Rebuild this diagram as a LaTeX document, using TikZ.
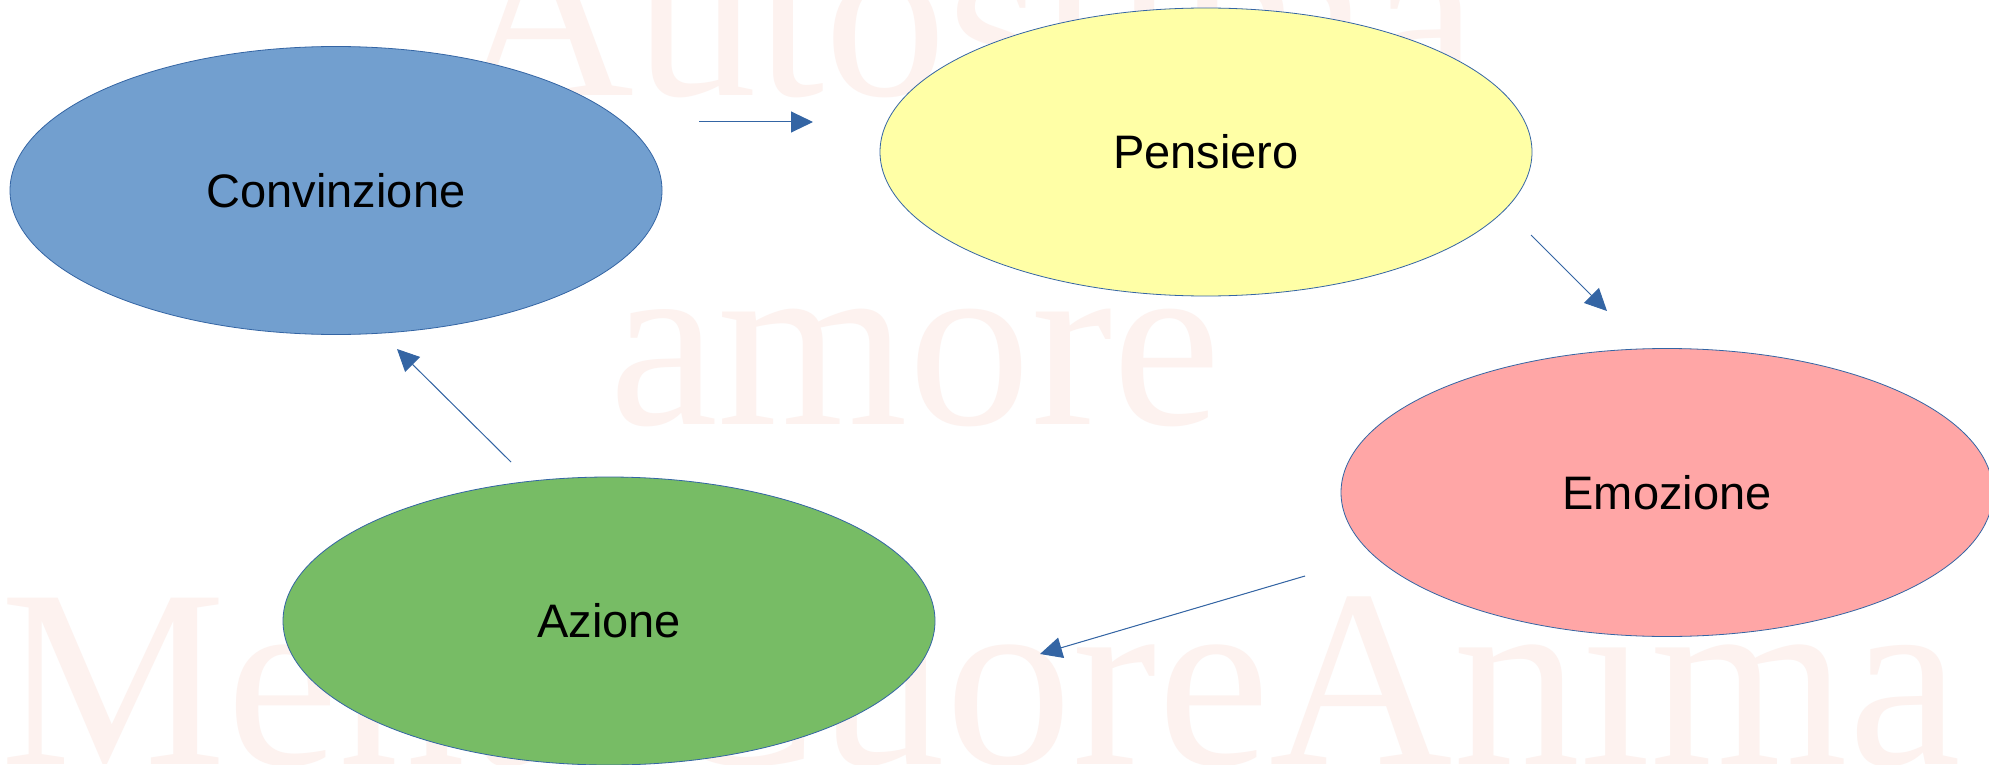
\documentclass[tikz,border=0pt]{standalone}
\usepackage{fontspec}
\setmainfont{Liberation Sans}
\newfontfamily\wmfont{Liberation Serif}
\usetikzlibrary{shapes.geometric,arrows.meta}
\definecolor{lineblue}{HTML}{3465A4}
\definecolor{cblue}{HTML}{729FCF}
\definecolor{cyellow}{HTML}{FFFFA6}
\definecolor{cpink}{HTML}{FFA6A6}
\definecolor{cgreen}{HTML}{77BC65}
\definecolor{wmcol}{RGB}{253,242,239}
\tikzset{
  bubble/.style={ellipse, draw=lineblue, line width=0.8pt, minimum width=652pt, minimum height=288pt, inner sep=0pt, font=\fontsize{47pt}{47pt}\selectfont, text=black},
  flow/.style={draw=lineblue, line width=1pt, -{Triangle[length=22pt,width=21pt]}, fill=lineblue},
  watermark/.style={text=wmcol, inner sep=0pt, anchor=base west, font=\wmfont\fontsize{245pt}{245pt}\selectfont}
}
\begin{document}
\begin{tikzpicture}[x=1pt,y=-1pt]
\useasboundingbox (0,0) rectangle (1989,765);
\clip (0,0) rectangle (1989,765);
\fill[white] (0,0) rectangle (1989,765);
% watermark
\node[watermark] (wm1) at (457,96) {Autostima};
\node[watermark] (wm2) at (609,424) {amore};
\node[watermark, font=\wmfont\fontsize{254pt}{254pt}\selectfont] (wm3) at (0,764) {MenteCuoreAnima};
% nodes
\node[bubble, fill=cblue] (conv) at (336,190.5) {Convinzione};
\node[bubble, fill=cyellow] (pens) at (1206,152) {Pensiero};
\node[bubble, fill=cpink] (emoz) at (1667,492.5) {Emozione};
\node[bubble, fill=cgreen] (azio) at (609,621) {Azione};
% connector ends
\coordinate (c1s) at (699,122);
\coordinate (c1e) at (813,122);
\coordinate (c2s) at (1531,235);
\coordinate (c2e) at (1607,311);
\coordinate (c3s) at (1305,576);
\coordinate (c3e) at (1040,654);
\coordinate (c4s) at (511,462);
\coordinate (c4e) at (397,349);
\draw[flow] (c1s) -- (c1e);
\draw[flow] (c2s) -- (c2e);
\draw[flow] (c3s) -- (c3e);
\draw[flow] (c4s) -- (c4e);
\end{tikzpicture}
\end{document}
